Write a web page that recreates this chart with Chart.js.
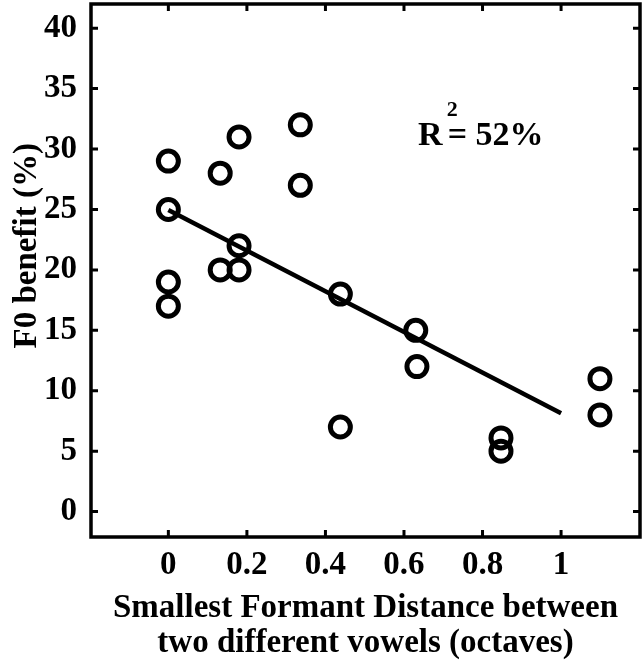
<!DOCTYPE html>
<html>
<head>
<meta charset="utf-8">
<script src="https://cdn.jsdelivr.net/npm/chart.js@4"></script>
<style>
html,body{margin:0;padding:0;background:#fff;}
#wrap{width:644px;height:666px;position:relative;}
</style>
</head>
<body>
<div id="wrap"><canvas id="c" width="644" height="666"></canvas></div>
<script>
// ---- data ----
const distance = [0, 0, 0, 0, 0.132, 0.132, 0.18, 0.18, 0.18, 0.336, 0.336, 0.438, 0.438, 0.63, 0.633, 0.847, 0.847, 1.099, 1.099];
const f0Benefit = [29, 25, 19, 17, 28, 20, 31, 22, 20, 32, 27, 18, 7, 15, 12, 6.1, 5, 11, 8];
const fitX = [0, 1];
const fitY = [24.95, 8.14];
const xTicks = [0, 0.2, 0.4, 0.6, 0.8, 1];
const yTicks = [0, 5, 10, 15, 20, 25, 30, 35, 40];
const xTitle = ['Smallest Formant Distance between', 'two different vowels (octaves)'];
const yTitle = 'F0 benefit (%)';
const r2Text = ['R', '2', '= 52%'];
const r2At = [0.636, 30.3];

const FONT = '"Liberation Serif", "Times New Roman", serif';

const boxPlugin = {
  id: 'box',
  afterDatasetsDraw(chart) {
    const {ctx, chartArea: a, scales} = chart;
    ctx.save();
    ctx.strokeStyle = '#000';
    ctx.lineWidth = 3.5;
    ctx.strokeRect(a.left, a.top, a.right - a.left, a.bottom - a.top);
    ctx.lineWidth = 3;
    const tl = 7;
    ctx.beginPath();
    xTicks.forEach(v => {
      const x = scales.x.getPixelForValue(v);
      ctx.moveTo(x, a.bottom); ctx.lineTo(x, a.bottom - tl);
      ctx.moveTo(x, a.top); ctx.lineTo(x, a.top + tl);
    });
    yTicks.forEach(v => {
      const y = scales.y.getPixelForValue(v);
      ctx.moveTo(a.left, y); ctx.lineTo(a.left + tl, y);
      ctx.moveTo(a.right, y); ctx.lineTo(a.right - tl, y);
    });
    ctx.stroke();
    // R^2 annotation
    const px = scales.x.getPixelForValue(r2At[0]);
    const py = scales.y.getPixelForValue(r2At[1]);
    ctx.fillStyle = '#000';
    ctx.textBaseline = 'alphabetic';
    ctx.textAlign = 'left';
    ctx.font = 'bold 34px ' + FONT;
    ctx.fillText(r2Text[0], px, py);
    const w = ctx.measureText(r2Text[0]).width;
    ctx.fillText(r2Text[2], px + w + 5, py);
    ctx.font = 'bold 22px ' + FONT;
    ctx.fillText(r2Text[1], px + w + 4, py - 29);
    ctx.restore();
  }
};

new Chart(document.getElementById('c'), {
  type: 'scatter',
  data: {
    datasets: [
      {
        type: 'line',
        data: fitX.map((x, i) => ({x, y: fitY[i]})),
        borderColor: '#000',
        borderWidth: 4.5,
        pointRadius: 0,
        fill: false,
        tension: 0
      },
      {
        data: distance.map((x, i) => ({x, y: f0Benefit[i]})),
        borderColor: '#000',
        backgroundColor: 'rgba(0,0,0,0)',
        borderWidth: 5,
        pointRadius: 10,
        pointHoverRadius: 10,
        pointStyle: 'circle'
      }
    ]
  },
  options: {
    responsive: false,
    animation: false,
    events: [],
    layout: {autoPadding: false, padding: {top: 4, right: 4, left: 0, bottom: 0}},
    plugins: {legend: {display: false}, tooltip: {enabled: false}},
    scales: {
      x: {
        type: 'linear',
        min: -0.197,
        max: 1.201,
        afterBuildTicks: s => { s.ticks = xTicks.map(v => ({value: v})); },
        afterFit: s => { s.height = 129; s.paddingLeft = 0; s.paddingRight = 0; },
        grid: {display: false, drawTicks: false},
        border: {display: false},
        ticks: {
          padding: 9,
          color: '#000',
          font: {family: FONT, size: 33, weight: 'bold'},
          callback: v => String(v)
        },
        title: {
          display: true,
          text: xTitle,
          color: '#000',
          font: {family: FONT, size: 33, weight: 'bold', lineHeight: 1.06},
          padding: {top: 0, bottom: 5}
        }
      },
      y: {
        type: 'linear',
        min: -2.1,
        max: 42,
        afterBuildTicks: s => { s.ticks = yTicks.map(v => ({value: v})); },
        afterFit: s => { s.width = 91; s.paddingTop = 0; s.paddingBottom = 0; },
        grid: {display: false, drawTicks: false},
        border: {display: false},
        ticks: {
          padding: 14,
          color: '#000',
          font: {family: FONT, size: 33, weight: 'bold'},
          callback: v => String(v)
        },
        title: {
          display: true,
          text: '      ' + yTitle,
          color: '#000',
          font: {family: FONT, size: 33, weight: 'bold', lineHeight: 1.2},
          padding: {top: 8, bottom: 0}
        }
      }
    }
  },
  plugins: [boxPlugin]
});
</script>
</body>
</html>
